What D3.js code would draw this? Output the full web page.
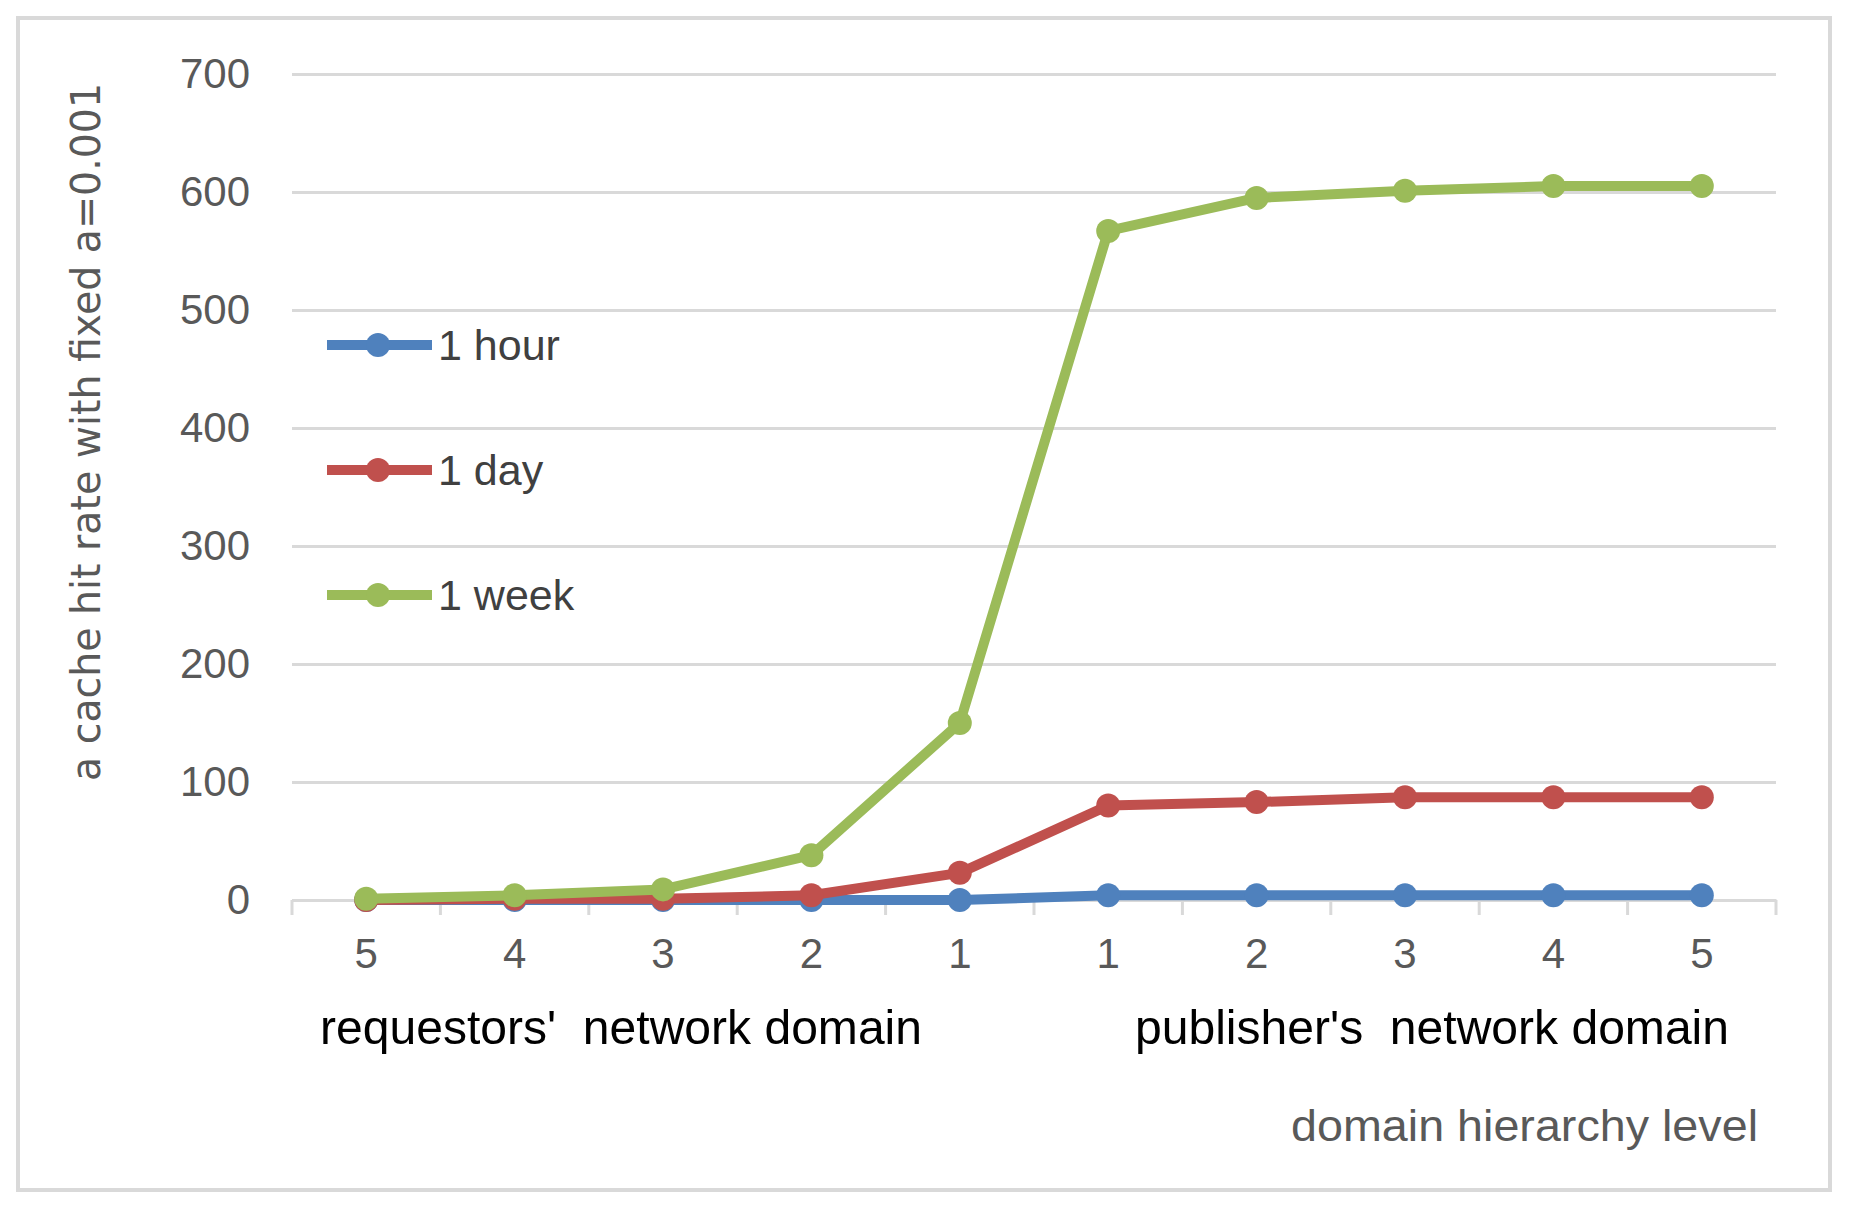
<!DOCTYPE html>
<html>
<head>
<meta charset="utf-8">
<script src="https://cdn.jsdelivr.net/npm/d3@7"></script>
<style>
  html, body { margin: 0; padding: 0; background: #fff; }
  svg { display: block; }
  text { white-space: pre; }
</style>
</head>
<body>
<script>
'use strict'

// categories: requestor side 5..1 then publisher side 1..5
var categories = ['r5', 'r4', 'r3', 'r2', 'r1', 'p1', 'p2', 'p3', 'p4', 'p5']
var tickLabels = ['5', '4', '3', '2', '1', '1', '2', '3', '4', '5']
var yTicks = [0, 100, 200, 300, 400, 500, 600, 700]

var seriesNames = ['1 hour', '1 day', '1 week']
var hourValues = [0, 0, 0, 0, 0, 4, 4, 4, 4, 4]
var dayValues = [0, 1, 1, 4, 23, 80, 83, 87, 87, 87]
var weekValues = [1, 4, 9, 38, 150, 567, 595, 601, 605, 605]
var seriesColors = ['#4F81BD', '#C0504D', '#9BBB59']

var W = 1869, H = 1225
  , m = { left: 292, right: 1776, top: 74, bottom: 900 }
  , svg = d3.select('body').append('svg').attr('width', W).attr('height', H)
  , font = 'Liberation Sans, Arial, sans-serif'

svg.append('rect')
  .attr('x', 18).attr('y', 18).attr('width', 1812).attr('height', 1172)
  .attr('fill', '#fff').attr('stroke', '#d9d9d9').attr('stroke-width', 4)

var x = d3.scaleBand().domain(categories).range([m.left, m.right])
  , y = d3.scaleLinear().domain([0, 700]).range([m.bottom, m.top])
  , cx = function(d){ return x(d) + x.bandwidth() / 2 }

// gridlines + y labels
var gy = svg.append('g').attr('transform', 'translate(' + m.left + ',0)')
  .call(d3.axisLeft(y).tickValues(yTicks).tickSize(-(m.right - m.left)).tickPadding(42))
gy.select('.domain').remove()
gy.selectAll('.tick line').attr('stroke', '#d9d9d9').attr('stroke-width', 3)
gy.selectAll('.tick text')
  .attr('fill', '#595959').style('font-family', font).style('font-size', '42px')

// x axis: labels centred in bands, tick marks on band edges
var gx = svg.append('g').attr('transform', 'translate(0,' + m.bottom + ')')
  .call(d3.axisBottom(x).tickSize(0).tickPadding(38)
    .tickFormat(function(d, i){ return tickLabels[i] }))
gx.select('.domain').attr('stroke', '#d9d9d9').attr('stroke-width', 3)
gx.selectAll('.tick text')
  .attr('fill', '#595959').style('font-family', font).style('font-size', '42px')
gx.selectAll('line.edge').data(categories.concat(['end'])).enter().append('line')
  .attr('class', 'edge')
  .attr('x1', function(d){ return d === 'end' ? m.right : x(d) })
  .attr('x2', function(d){ return d === 'end' ? m.right : x(d) })
  .attr('y1', 0).attr('y2', 15)
  .attr('stroke', '#d9d9d9').attr('stroke-width', 3)

// series
var series = [hourValues, dayValues, weekValues]
var line = d3.line()
  .x(function(d, i){ return cx(categories[i]) })
  .y(function(d){ return y(d) })

series.forEach(function(vals, k){
  var g = svg.append('g')
  g.append('path').datum(vals)
    .attr('d', line).attr('fill', 'none')
    .attr('stroke', seriesColors[k]).attr('stroke-width', 10)
    .attr('stroke-linejoin', 'round')
  g.selectAll('circle').data(vals).enter().append('circle')
    .attr('cx', function(d, i){ return cx(categories[i]) })
    .attr('cy', function(d){ return y(d) })
    .attr('r', 12).attr('fill', seriesColors[k])
})

// legend
var leg = svg.append('g').selectAll('g').data(seriesNames).enter().append('g')
  .attr('transform', function(d, i){ return 'translate(327,' + (345 + i * 125) + ')' })
leg.append('line').attr('x1', 0).attr('x2', 105).attr('y1', 0).attr('y2', 0)
  .attr('stroke', function(d, i){ return seriesColors[i] }).attr('stroke-width', 10)
leg.append('circle').attr('cx', 51).attr('cy', 0).attr('r', 12)
  .attr('fill', function(d, i){ return seriesColors[i] })
leg.append('text').attr('x', 111).attr('y', 0).attr('dy', '0.35em')
  .attr('fill', '#404040').style('font-family', font).style('font-size', '43px')
  .text(function(d){ return d })

// axis titles
svg.append('text')
  .attr('x', 320).attr('y', 1044)
  .attr('textLength', 602).attr('lengthAdjust', 'spacingAndGlyphs')
  .attr('fill', '#000').style('font-family', font).style('font-size', '48px')
  .text("requestors'  network domain")

svg.append('text')
  .attr('x', 1135).attr('y', 1044)
  .attr('textLength', 594).attr('lengthAdjust', 'spacingAndGlyphs')
  .attr('fill', '#000').style('font-family', font).style('font-size', '48px')
  .text("publisher's  network domain")

svg.append('text')
  .attr('x', 1291).attr('y', 1141)
  .attr('textLength', 467).attr('lengthAdjust', 'spacingAndGlyphs')
  .attr('fill', '#595959').style('font-family', font).style('font-size', '44px')
  .text('domain hierarchy level')

svg.append('text')
  .attr('transform', 'translate(100,781) rotate(-90)')
  .attr('textLength', 698).attr('lengthAdjust', 'spacingAndGlyphs')
  .attr('fill', '#595959').style('font-family', 'DejaVu Sans, Verdana, sans-serif')
  .style('font-size', '40px')
  .text('a cache hit rate with fixed a=0.001')
</script>
</body>
</html>
